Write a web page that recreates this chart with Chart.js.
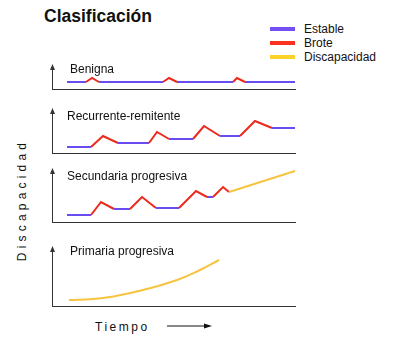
<!DOCTYPE html>
<html>
<head>
<meta charset="utf-8">
<script src="https://cdn.jsdelivr.net/npm/chart.js@4.4.1/dist/chart.umd.min.js"></script>
<style>
  html, body { margin: 0; padding: 0; background: #fff; }
  body { width: 400px; height: 350px; position: relative; overflow: hidden; font-family: "Liberation Sans", Arial, sans-serif; color: #111; }
  .abs { position: absolute; }
  canvas.panel { position: absolute; }
  .lbl { position: absolute; font-size: 12px; line-height: 12px; transform: translateY(-50%); white-space: nowrap; }
  #title { left: 44px; top: 8px; font-size: 17.5px; line-height: 17px; font-weight: bold; }
  .legLine { position: absolute; left: 270px; width: 25px; height: 4px; transform: translateY(-50%); }
  #ylab { left: 22px; top: 200px; font-size: 12px; letter-spacing: 4.2px; transform: translate(-50%, -50%) rotate(-90deg); white-space: nowrap; }
  #xlab { left: 95px; top: 327px; font-size: 12px; letter-spacing: 2.5px; transform: translateY(-50%); }
</style>
</head>
<body>
<div id="title" class="abs">Clasificación</div>
<div id="legend"></div>
<div id="ylab" class="abs">Discapacidad</div>
<div id="xlab" class="abs">Tiempo</div>
<svg class="abs" style="left:160px;top:320px" width="60" height="12">
  <line x1="7" y1="6" x2="46" y2="6" stroke="#111" stroke-width="1"/>
  <polygon points="44,3.5 52,6 44,8.5" fill="#111"/>
</svg>
<canvas id="c1" class="panel"></canvas>
<canvas id="c2" class="panel"></canvas>
<canvas id="c3" class="panel"></canvas>
<canvas id="c4" class="panel"></canvas>
<script>
// ---- data (time units along the axis, disability level up the axis) ----
const phaseNames = ['Estable', 'Brote', 'Discapacidad'];
const panelTitles = ['Benigna', 'Recurrente-remitente', 'Secundaria progresiva', 'Primaria progresiva'];

const timeBenigna  = [15, 34, 40, 47, 111, 117, 125, 181, 185, 193, 243];
const levelBenigna = [7, 7, 11, 7, 7, 11, 7, 7, 11, 7, 7];
const phaseBenigna = ['Estable','Brote','Brote','Estable','Brote','Brote','Estable','Brote','Brote','Estable'];

const timeRR  = [15, 39, 51, 66, 97, 105, 117, 141, 152, 168, 188, 203, 220, 243];
const levelRR = [6, 6, 17, 10, 10, 21, 14, 14, 27, 17, 17, 32, 25, 25];
const phaseRR = ['Estable','Brote','Brote','Estable','Brote','Brote','Estable','Brote','Brote','Estable','Brote','Brote','Estable'];

const timeSP  = [15, 39, 49, 62, 78, 90, 104, 127, 144, 155, 161, 171, 177, 243];
const levelSP = [7, 7, 20, 13, 13, 25, 14, 14, 31, 25, 25, 35, 30, 51];
const phaseSP = ['Estable','Brote','Brote','Estable','Brote','Brote','Estable','Brote','Brote','Estable','Brote','Brote','Discapacidad'];

const timePP  = [17, 41, 58, 91, 125, 148, 167];
const levelPP = [6, 7, 9, 16, 26, 36, 46];
const phasePP = ['Discapacidad','Discapacidad','Discapacidad','Discapacidad','Discapacidad','Discapacidad'];

const timeMax = 243;
const levelMax = [23, 43, 52, 58];

// ---- styling ----
const phaseColor = { 'Estable': '#6a4cf0', 'Brote': '#ec2a1c', 'Discapacidad': '#f6c440' };
const legendColor = { 'Estable': '#7450f2', 'Brote': '#fb3320', 'Discapacidad': '#fbd22a' };
const axisColor = '#333';

// panel geometry: chart-area top and bottom in page pixels
const panelGeom = [
  { top: 66, bottom: 89, labelY: 68.5 },
  { top: 110, bottom: 153, labelY: 116 },
  { top: 170, bottom: 222, labelY: 176 },
  { top: 248, bottom: 306, labelY: 250.5 }
];
const PAD = 8, AREA_LEFT = 52, AREA_RIGHT = 295, CANVAS_LEFT = 40, CANVAS_W = 265;

// legend (HTML)
const legendY = [29, 43, 57];
const legendDiv = document.getElementById('legend');
phaseNames.forEach((n, i) => {
  const l = document.createElement('div');
  l.className = 'legLine';
  l.style.top = legendY[i] + 'px';
  l.style.background = legendColor[n];
  legendDiv.appendChild(l);
  const t = document.createElement('div');
  t.className = 'lbl';
  t.style.left = '304px';
  t.style.top = legendY[i] + 'px';
  t.textContent = n;
  legendDiv.appendChild(t);
});

// panel titles
panelTitles.forEach((n, i) => {
  const t = document.createElement('div');
  t.className = 'lbl';
  t.style.left = (i === 3 ? 70 : (i === 0 ? 70 : 67)) + 'px';
  t.style.top = panelGeom[i].labelY + 'px';
  t.textContent = n;
  document.body.appendChild(t);
});

const arrowPlugin = {
  id: 'yArrow',
  afterDraw(chart) {
    const ctx = chart.ctx;
    const y = chart.scales.y;
    const x = Math.round(chart.chartArea.left) + 0.5;
    const top = y.top;
    ctx.save();
    ctx.fillStyle = axisColor;
    ctx.beginPath();
    ctx.moveTo(x, top - 2);
    ctx.lineTo(x - 2.5, top + 4);
    ctx.lineTo(x + 2.5, top + 4);
    ctx.closePath();
    ctx.fill();
    ctx.restore();
  }
};

const series = [
  [timeBenigna, levelBenigna, phaseBenigna, false],
  [timeRR, levelRR, phaseRR, false],
  [timeSP, levelSP, phaseSP, false],
  [timePP, levelPP, phasePP, true]
];

series.forEach((s, i) => {
  const [tArr, lArr, pArr, curved] = s;
  const g = panelGeom[i];
  const canvas = document.getElementById('c' + (i + 1));
  const h = (g.bottom - g.top) + 2 * PAD;
  canvas.style.left = CANVAS_LEFT + 'px';
  canvas.style.top = (g.top - PAD) + 'px';
  canvas.style.width = CANVAS_W + 'px';
  canvas.style.height = h + 'px';
  canvas.width = CANVAS_W;
  canvas.height = h;
  new Chart(canvas, {
    type: 'line',
    data: {
      datasets: [{
        data: tArr.map((t, k) => ({ x: t, y: lArr[k] })),
        borderWidth: 2,
        borderColor: phaseColor[pArr[0]],
        pointRadius: 0,
        clip: false,
        tension: curved ? 0.5 : 0,
        borderJoinStyle: 'miter',
        segment: { borderColor: c => phaseColor[pArr[c.p0DataIndex]] }
      }]
    },
    options: {
      responsive: false,
      animation: false,
      events: [],
      layout: { padding: { left: AREA_LEFT - CANVAS_LEFT, right: CANVAS_LEFT + CANVAS_W - AREA_RIGHT, top: PAD, bottom: PAD } },
      plugins: { legend: { display: false }, tooltip: { enabled: false }, title: { display: false } },
      scales: {
        x: {
          type: 'linear', min: 0, max: timeMax,
          grid: { display: false },
          ticks: { display: false },
          border: { display: true, color: axisColor, width: 1 },
          afterFit: sc => { sc.height = 0; }
        },
        y: {
          type: 'linear', min: 0, max: levelMax[i],
          grid: { display: false },
          ticks: { display: false },
          border: { display: true, color: axisColor, width: 1 },
          afterFit: sc => { sc.width = 0; }
        }
      }
    },
    plugins: [arrowPlugin]
  });
});
</script>
</body>
</html>
